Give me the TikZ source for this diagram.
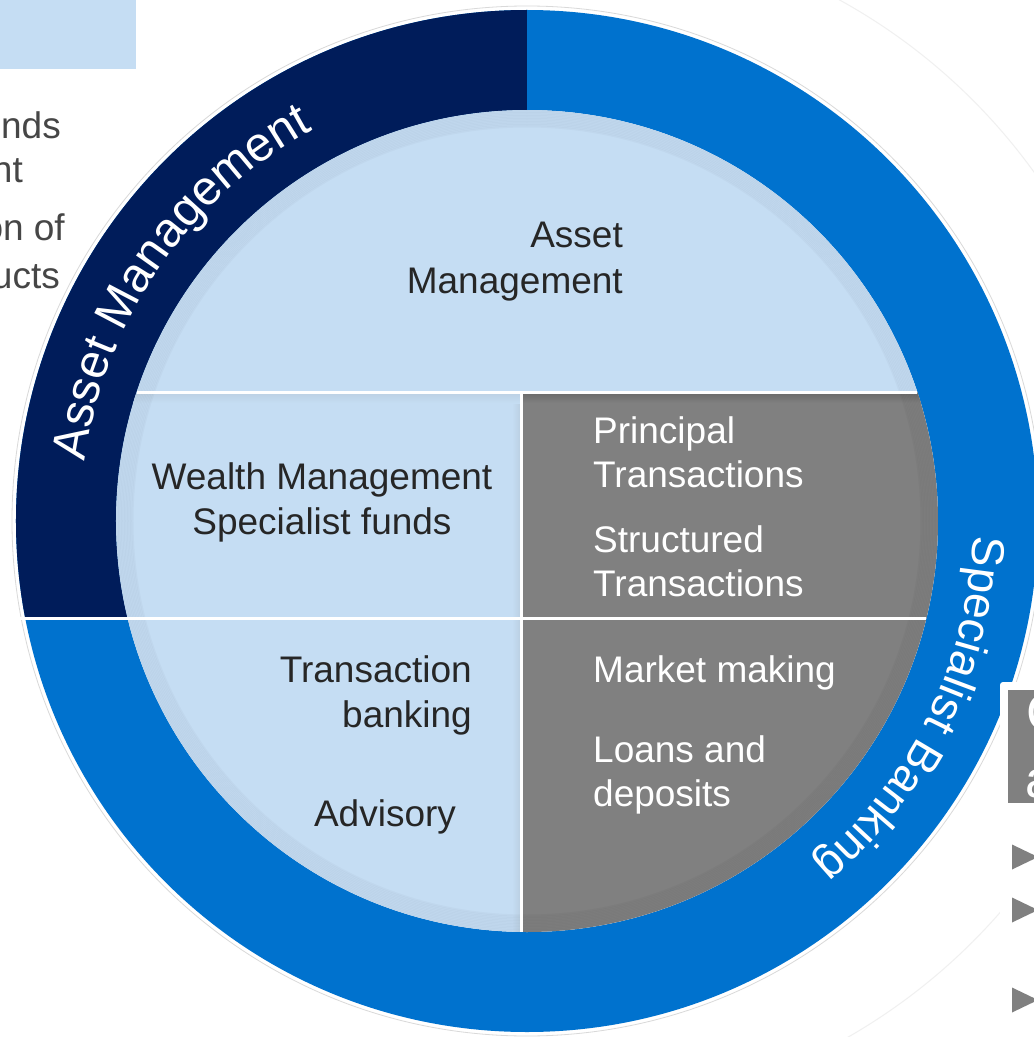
\documentclass[tikz,border=0pt]{standalone}
\usepackage{fontspec}
\setmainfont{Liberation Sans}
\usetikzlibrary{decorations.text}

\definecolor{paleblue}{RGB}{197,221,243}
\definecolor{navy}{RGB}{0,28,90}
\definecolor{ringblue}{RGB}{0,114,206}
\definecolor{midgray}{RGB}{128,128,128}
\definecolor{inkgray}{RGB}{38,38,38}
\definecolor{sidegray}{RGB}{70,70,70}

\newcommand\discfont{\fontsize{37}{45}\selectfont}
\newcommand\ringfontA{\fontsize{48.5}{48}\selectfont}
\newcommand\ringfontB{\fontsize{46}{46}\selectfont}
\newcommand\boxfont{\fontsize{52}{52}\selectfont}

\begin{document}
\begin{tikzpicture}[x=1pt,y=1pt,
  darklabel/.style={text=inkgray,font=\discfont,inner sep=0pt},
  lightlabel/.style={text=white,font=\discfont,inner sep=0pt},
  sidelabel/.style={text=sidegray,font=\discfont,inner sep=0pt},
  boxlabel/.style={text=white,font=\boxfont,inner sep=0pt},
  divider/.style={draw=white,line width=3pt},
  bullet/.style={fill=midgray}]
\useasboundingbox (-527,-516) rectangle (507,521);
\clip (-527,-516) rectangle (507,521);
\fill[white] (-527,-516) rectangle (507,521);

% faint outlines around the wheel
\draw[gray!12, line width=1pt] (25,0) ++(72:595) arc[start angle=72, end angle=-72, radius=595];
\draw[gray!30, line width=0.8pt] (0,0) circle[radius=515];

% outer ring: blue, with the navy quarter at the upper left
\fill[ringblue, even odd rule] (0,0) circle[radius=511] (0,0) circle[radius=411];
\begin{scope}
  \clip (-530,-97) rectangle (0,530);
  \fill[navy, even odd rule] (0,0) circle[radius=511] (0,0) circle[radius=411];
\end{scope}

% inner disc with its grey quadrant
\fill[paleblue] (0,0) circle[radius=411];
\begin{scope}
  \clip (0,0) circle[radius=411];
  \fill[midgray] (-5,129) rectangle (420,-420);
  \shade[left color=paleblue, right color=paleblue!82!gray] (-15,129) rectangle (-5,-420);
  \shade[top color=paleblue!88!gray, bottom color=paleblue] (-420,127) rectangle (-6,118);
  \shade[top color=midgray!85!black, bottom color=midgray] (-4,127) rectangle (420,118);
  \foreach \i in {0,...,11}
    \draw[black, opacity=0.022, line width=2pt] (0,0) circle[radius=411-\i*1.5];
\end{scope}

% white dividers
\draw[divider] (-390,129) -- (390,129);
\draw[divider] (-511,-97) -- (399,-97);
\draw[divider] (-5,129) -- (-5,-411);

% ring captions
\path[decorate, decoration={text along path,
    text={|\ringfontA\color{white}|Asset Management}, text align=center}]
  (184.5:446) arc[start angle=184.5, end angle=106.5, radius=446];
\path[decorate, decoration={text along path,
    text={|\ringfontB\color{white}|Specialist Banking}, text align=center}]
  (14:446) arc[start angle=14, end angle=-66, radius=446];

% disc captions
\node[darklabel, anchor=base east] (am1) at (96,273) {Asset};
\node[darklabel, anchor=base east] (am2) at (96,228) {Management};
\node[darklabel, anchor=base] (wm1) at (-205,32) {Wealth Management};
\node[darklabel, anchor=base] (wm2) at (-205,-13) {Specialist funds};
\node[lightlabel, anchor=base west] (pt1) at (66,78) {Principal};
\node[lightlabel, anchor=base west] (pt2) at (66,34) {Transactions};
\node[lightlabel, anchor=base west] (st1) at (66,-31) {Structured};
\node[lightlabel, anchor=base west] (st2) at (66,-75) {Transactions};
\node[darklabel, anchor=base east] (tb1) at (-55,-161) {Transaction};
\node[darklabel, anchor=base east] (tb2) at (-55,-206) {banking};
\node[darklabel, anchor=base] (adv) at (-142,-305) {Advisory};
\node[lightlabel, anchor=base west] (mm) at (66,-161) {Market making};
\node[lightlabel, anchor=base west] (ld1) at (66,-241) {Loans and};
\node[lightlabel, anchor=base west] (ld2) at (66,-285) {deposits};

% panel at the upper left
\fill[paleblue] (-527,521) rectangle (-391,452);
\node[sidelabel, anchor=base east] (s1) at (-466,382) {nds};
\node[sidelabel, anchor=base east] (s2) at (-504,338) {nt};
\node[sidelabel, anchor=base east] (s3) at (-462,280) {on of};
\node[sidelabel, anchor=base east] (s4) at (-467,233) {ucts};

% panel at the lower right
\fill[white, rounded corners=3pt] (473,-161) rectangle (540,-540);
\fill[midgray] (481,-169) rectangle (540,-282);
\node[boxlabel, anchor=base west] (b1) at (499,-209) {C};
\node[boxlabel, anchor=base west] (b2) at (498,-276) {a};
\foreach \yc in {-336,-389,-479}
  \fill[bullet] (485,\yc+12.5) -- (511,\yc) -- (485,\yc-12.5) -- cycle;
\end{tikzpicture}
\end{document}
